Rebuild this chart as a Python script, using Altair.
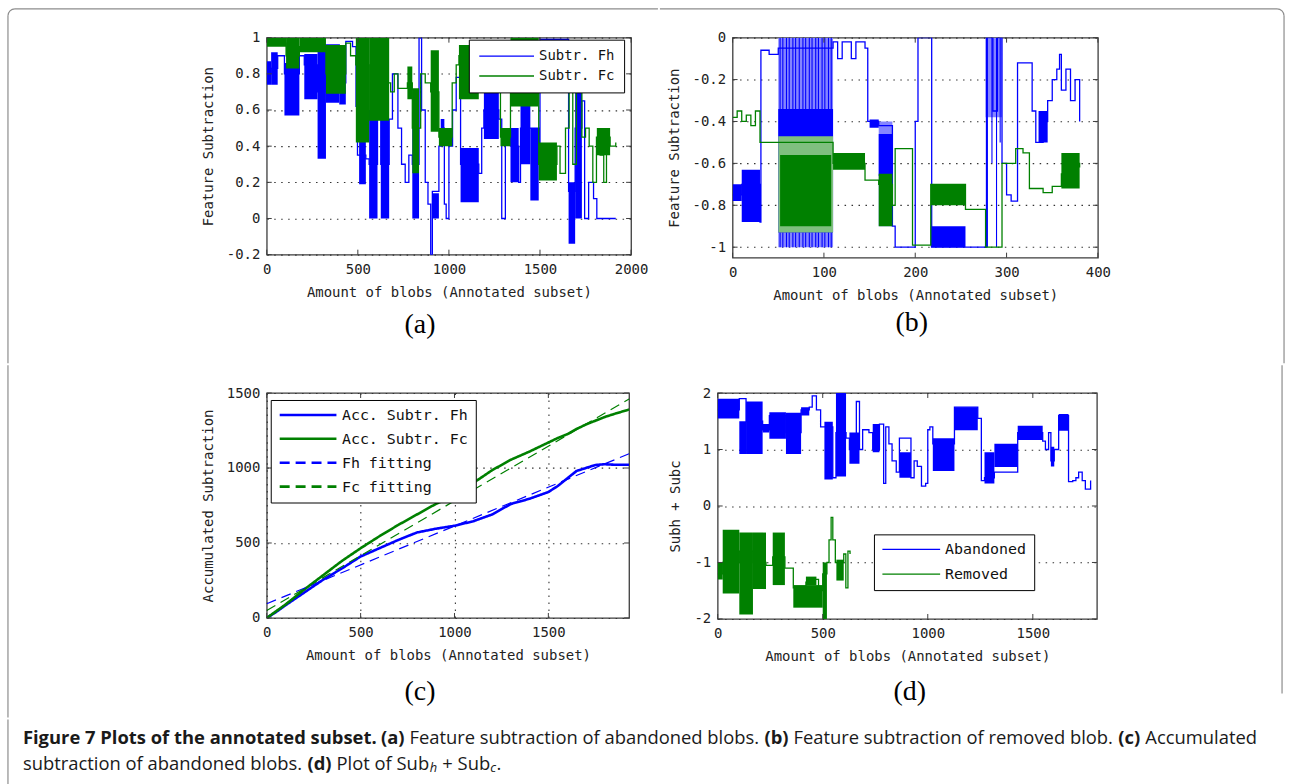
import math
import altair as alt
import pandas as pd

# ---------------- colours / fonts ----------------
BLUE, GREEN = "#0000ff", "#008000"
LBLUE, LGREEN = "#8585ff", "#7fbf7f"
BOX = "#3c3c3c"
FRAME = "#8c8c8c"
MONO = "DejaVu Sans Mono"
SERIF = "Liberation Serif"
SANS = "Open Sans"
XTITLE = "Amount of blobs (Annotated subset)"

# ---------------- panel (a): feature subtraction of abandoned blobs ----------------
A_NAMES = ["Subtr. Fh", "Subtr. Fc"]
A_XTICKS = [0, 500, 1000, 1500, 2000]
A_YTICKS = [-0.2, 0, 0.2, 0.4, 0.6, 0.8, 1]
A_FH_X = [0, 24, 60, 97, 179, 206, 279, 325, 398, 434, 471, 490, 498, 544, 562, 608, 626, 672, 690, 720,
          740, 760, 780, 799, 836, 850, 870, 885, 900, 909, 945, 960, 975, 985, 1000, 1020, 1040, 1064, 1164, 1180,
          1192, 1274, 1290, 1310, 1338, 1383, 1393, 1493, 1500, 1640, 1657, 1693, 1730, 1745, 1767, 1794, 1812, 1916]
A_FH_Y = [0.8, 0.83, 0.9, 0.8, 0.9, 0.85, 0.7, 0.96, 0.75, 0.98, 0.95, 0.62, 0.35, 0.33, 0.3, 0.55, 0.3, 0.55, 0.8, 0.5,
          0.3, 0.2, 0.35, 0.3, 1.0, 0.6, 0.2, 0.08, -0.2, 0.15, 0.4, 0.5, 0.08, 0.0, 0.4, 0.6, 0.78, 0.3, 0.25, 0.5,
          0.6, 0.55, 0.0, 0.45, 0.4, 0.2, 0.5, 0.3, 0.99, 0.99, 0.15, 0.5, 0.65, 0.0, 0.2, 0.11, 0.0, 0.0]
A_FH_BLOCKS = [(0, 24, 0.74, 0.87), (24, 60, 0.74, 0.92), (97, 179, 0.57, 0.86), (206, 279, 0.66, 0.91),
               (279, 325, 0.33, 0.96), (325, 398, 0.64, 0.96), (398, 434, 0.63, 0.84), (507, 544, 0.19, 0.5),
               (562, 608, 0.0, 0.6), (626, 672, 0.0, 0.55), (799, 836, 0.0, 0.59), (909, 945, 0.0, 0.14),
               (955, 975, 0.45, 0.55), (1064, 1164, 0.09, 0.39), (1192, 1274, 0.44, 0.72), (1338, 1383, 0.2, 0.5),
               (1393, 1447, 0.3, 0.63), (1447, 1493, 0.1, 0.5), (1657, 1693, -0.14, 0.2), (1693, 1730, 0.0, 0.72)]
A_FC_X = [0, 106, 179, 325, 434, 460, 489, 562, 600, 640, 680, 700, 720, 772, 799, 845, 870, 900, 945, 1018,
          1040, 1055, 1164, 1180, 1200, 1230, 1283, 1338, 1493, 1593, 1610, 1640, 1660, 1680, 1700, 1730, 1750, 1770,
          1790, 1810, 1830, 1850, 1865, 1885, 1916]
A_FC_Y = [0.97, 0.9, 0.95, 0.8, 0.97, 0.9, 0.85, 0.55, 0.8, 0.75, 0.7, 0.8, 0.72, 0.75, 0.5, 0.8, 0.75, 0.7, 0.45, 0.75,
          0.85, 0.9, 0.8, 0.7, 0.95, 0.7, 0.45, 0.8, 0.3, 0.4, 0.25, 0.5, 0.7, 0.3, 0.7, 0.45, 0.5, 0.4,
          0.2, 0.45, 0.35, 0.2, 0.45, 0.4, 0.42]
A_FC_BLOCKS = [(0, 106, 0.95, 1.0), (106, 179, 0.83, 1.0), (179, 325, 0.92, 1.0), (325, 434, 0.69, 0.96),
               (489, 562, 0.42, 1.0), (562, 672, 0.54, 1.0), (772, 799, 0.66, 0.84), (799, 836, 0.25, 0.72),
               (900, 945, 0.48, 0.93), (945, 1018, 0.4, 0.5), (1055, 1164, 0.66, 0.96), (1283, 1338, 0.4, 0.5),
               (1338, 1493, 0.62, 1.0), (1493, 1593, 0.21, 0.42), (1812, 1885, 0.35, 0.5)]

# ---------------- panel (b): feature subtraction of removed blobs ----------------
B_XTICKS = [0, 100, 200, 300, 400]
B_YTICKS = [-1, -0.8, -0.6, -0.4, -0.2, 0]
B_FH_X = [0, 10, 30, 31, 40, 50, 110, 115, 120, 130, 135, 145, 148, 160, 175, 178, 197, 200, 203, 217,
          218, 277, 278, 285, 290, 295, 300, 305, 312, 325, 328, 332, 340, 345, 350, 355, 358, 360, 365, 370, 375, 380]
B_FH_Y = [-0.75, -0.7, -0.88, -0.06, -0.08, -0.05, -0.02, -0.1, -0.02, -0.1, -0.02, -0.05, -0.4, -0.42, -0.9, -1.0,
          -1.0, -0.4, 0.0, 0.0, -1.0, -1.0, 0.0, -0.35, 0.0, -0.6, -0.75, -0.78, -0.12, -0.12, -0.35, -0.5, -0.4,
          -0.3, -0.2, -0.15, -0.08, -0.25, -0.15, -0.3, -0.2, -0.4]
B_FH_LIGHT = [(50, 110, -1.0, 0.0), (160, 175, -0.9, -0.4), (277, 295, -0.38, 0.0)]
B_FH_BLOCKS = [(0, 10, -0.78, -0.7), (10, 30, -0.88, -0.63), (50, 110, -0.93, -0.34), (150, 160, -0.43, -0.39),
               (160, 175, -0.66, -0.46), (217, 255, -1.0, -0.9), (335, 345, -0.5, -0.35)]
# dense single-sample spikes of Fh that show as vertical stripes
B_FH_SPIKE_X = [52, 55, 59, 62, 66, 69, 73, 77, 80, 84, 87, 91, 94, 98, 101, 105, 108, 279, 284, 289, 293]
B_FH_SPIKE_Y0 = [-1.0] * 17 + [-1.0, -0.6, -1.0, -0.5]
B_FH_SPIKE_Y1 = [0.0] * 17 + [0.0, 0.0, 0.0, 0.0]
B_FC_X = [0, 5, 10, 15, 20, 25, 30, 50, 110, 145, 160, 175, 178, 197, 217, 255, 277, 295, 310, 318,
          325, 340, 350, 360, 370, 380]
B_FC_Y = [-0.38, -0.35, -0.4, -0.37, -0.42, -0.35, -0.5, -0.5, -0.6, -0.68, -0.7, -0.8, -0.53, -0.99, -0.7, -0.82,
          -1.0, -0.6, -0.53, -0.55, -0.72, -0.74, -0.71, -0.65, -0.6, -0.62]
B_FC_LIGHT = [(50, 110, -0.93, -0.47)]
B_FC_BLOCKS = [(52, 108, -0.9, -0.56), (110, 145, -0.63, -0.55), (160, 175, -0.9, -0.65), (217, 255, -0.8, -0.7),
               (360, 380, -0.72, -0.55)]

# ---------------- panel (c): accumulated subtraction ----------------
C_NAMES = ["Acc. Subtr. Fh", "Acc. Subtr. Fc", "Fh fitting", "Fc fitting"]
C_XTICKS = [0, 500, 1000, 1500]
C_YTICKS = [0, 500, 1000, 1500]
C_X = [0, 50, 100, 200, 300, 400, 500, 600, 700, 800, 900, 1000, 1100, 1200, 1300, 1400, 1500, 1550, 1600, 1650,
       1700, 1750, 1800, 1850, 1930]
C_FH = [0, 40, 85, 170, 255, 330, 410, 465, 520, 570, 595, 615, 645, 690, 760, 795, 840, 880, 930, 980,
        1000, 1020, 1025, 1022, 1022]
C_FC = [0, 45, 90, 190, 285, 380, 465, 545, 620, 690, 760, 815, 900, 985, 1055, 1110, 1170, 1200, 1225, 1260,
        1290, 1315, 1340, 1360, 1390]
C_FIT_X = [0, 1930]
C_FH_FIT = [95, 1095]
C_FC_FIT = [50, 1460]

# ---------------- panel (d): Sub_h + Sub_c ----------------
D_NAMES = ["Abandoned", "Removed"]
D_XTICKS = [0, 500, 1000, 1500]
D_YTICKS = [-2, -1, 0, 1, 2]
D_FH_X = [0, 103, 135, 214, 246, 325, 397, 436, 450, 470, 490, 508, 548, 563, 611, 627, 660, 675, 690, 720,
          738, 770, 790, 800, 815, 830, 850, 865, 920, 935, 950, 970, 990, 1000, 1010, 1024, 1127, 1238, 1255, 1270,
          1317, 1428, 1547, 1560, 1575, 1586, 1602, 1623, 1670, 1690, 1705, 1718, 1735, 1750, 1775]
D_FH_Y = [1.7, 1.9, 1.5, 1.35, 1.6, 1.3, 1.7, 1.75, 1.95, 1.7, 1.4, 1.4, 0.5, 1.3, 1.2, 1.0, 1.85, 1.0, 1.35, 1.3,
          1.0, 1.45, 0.4, 1.4, 1.1, 0.8, 0.6, 1.2, 0.5, 0.8, 0.7, 0.35, 0.4, 1.35, 1.4, 1.1, 1.75, 1.55, 0.45, 0.5,
          0.6, 1.3, 1.15, 1.0, 1.3, 0.8, 1.0, 1.6, 0.43, 0.45, 0.5, 0.6, 0.45, 0.3, 0.45]
D_FH_BLOCKS = [(0, 103, 1.55, 1.9), (103, 135, 0.92, 1.5), (135, 214, 0.92, 1.85), (214, 246, 1.3, 1.45),
               (246, 325, 1.19, 1.66), (325, 397, 0.92, 1.65), (397, 436, 1.6, 1.75), (508, 548, 0.47, 1.49),
               (563, 611, 0.52, 2.0), (627, 675, 0.75, 1.3), (738, 770, 0.95, 1.45), (865, 920, 0.5, 0.95),
               (1024, 1127, 0.62, 1.2), (1127, 1238, 1.34, 1.75), (1270, 1317, 0.4, 0.95), (1317, 1428, 0.69, 1.1),
               (1428, 1547, 1.17, 1.42), (1586, 1602, 0.7, 1.05), (1623, 1670, 1.33, 1.63)]
D_FC_X = [0, 24, 103, 168, 230, 262, 320, 360, 420, 450, 480, 500, 520, 530, 540, 548, 560, 575, 590, 600,
          610, 620, 630]
D_FC_Y = [-1.2, -1.0, -0.8, -1.0, -1.05, -0.9, -1.1, -1.45, -1.35, -1.3, -1.5, -1.2, -1.0, -0.6, -0.2, -0.6, -1.0,
          -1.1, -1.0, -0.85, -1.45, -0.8, -0.85]
D_FC_BLOCKS = [(0, 24, -1.3, -1.0), (24, 103, -1.55, -0.42), (103, 168, -1.92, -0.47), (168, 230, -1.47, -0.47),
               (262, 320, -1.4, -0.47), (360, 500, -1.8, -1.4), (420, 470, -1.4, -1.25), (500, 520, -2.0, -1.0),
               (565, 600, -1.32, -0.95)]

# ---------------- captions ----------------
PANEL_LABELS = ["(a)", "(b)", "(c)", "(d)"]
CAP_LINE1 = [("Figure 7 Plots of the annotated subset.", "b"), (" ", "r"), ("(a)", "b"),
             (" Feature subtraction of abandoned blobs. ", "r"), ("(b)", "b"),
             (" Feature subtraction of removed blob. ", "r"), ("(c)", "b"), (" Accumulated", "r")]
CAP_LINE2 = [("subtraction of abandoned blobs. ", "r"), ("(d)", "b"), (" Plot of Sub", "r"), ("h", "s"),
             (" + Sub", "r"), ("c", "s"), (".", "r")]

# ---------------- page layout (absolute pixels) ----------------
# every sub-chart owns one invisible cell of the page; the cells tile the page exactly
COL_SPLIT, ROW1_END, ROW2_END, PAGE_W, PAGE_H = 658, 360, 712, 1292, 785
VIEW = {"a": (267, 35), "b": (731, 35), "c": (267, 388), "d": (718, 388), "cap": (267, 712)}
CELL = {"a": (0, 0, COL_SPLIT, ROW1_END), "b": (COL_SPLIT, 0, PAGE_W, ROW1_END),
        "c": (0, ROW1_END, COL_SPLIT, ROW2_END), "d": (COL_SPLIT, ROW1_END, PAGE_W, ROW2_END),
        "cap": (0, ROW2_END, PAGE_W, PAGE_H)}
LABEL_POS = {"a": (421, 324), "b": (911, 322), "c": (421, 688), "d": (911, 688)}
FL, FT, FR, FB, FRAD, FW = 7, 6, 1285, 784, 7, 1.2  # page frame (left, top, right, bottom, radius, width)
FRAME_RIGHT_END = 690
SEAM = 2  # frame pieces that end at a cell edge run on slightly to close the seam

one = pd.DataFrame({"k": [0]})


def cell_layers(key):
    vx, vy = VIEW[key]
    x0, y0, x1, y1 = CELL[key]
    return [alt.Chart(one).mark_rect(opacity=0).encode(
        x=alt.value(x0 - vx), x2=alt.value(x1 - vx), y=alt.value(y0 - vy), y2=alt.value(y1 - vy))]


def frame_layers(key):
    vx, vy = VIEW[key]
    x0, y0, x1, y1 = CELL[key]
    out = []
    h = FW / 2.0

    def bar(xa, xb, ya, yb):
        out.append(alt.Chart(one).mark_rect(color=FRAME).encode(
            x=alt.value(xa - vx), x2=alt.value(xb - vx), y=alt.value(ya - vy), y2=alt.value(yb - vy)))

    def corner(cx, cy, t0, t1):
        out.append(alt.Chart(one).mark_arc(radius=FRAD + h, radius2=FRAD - h, theta=t0, theta2=t1,
                                           color=FRAME).encode(x=alt.value(cx - vx), y=alt.value(cy - vy)))

    if key == "a":
        bar(FL + FRAD, x1 + SEAM, FT - h, FT + h)
        bar(FL - h, FL + h, FT + FRAD, y1 + SEAM)
        corner(FL + FRAD, FT + FRAD, 1.5 * math.pi, 2 * math.pi)
    if key == "b":
        bar(x0, FR - FRAD, FT - h, FT + h)
        bar(FR - h, FR + h, FT + FRAD, y1 + SEAM)
        corner(FR - FRAD, FT + FRAD, 0, 0.5 * math.pi)
    if key == "c":
        bar(FL - h, FL + h, y0, y1 + SEAM)
    if key == "d":
        bar(FR - h, FR + h, y0, FRAME_RIGHT_END)
    if key == "cap":
        bar(FL - h, FL + h, y0, FB - FRAD)
        corner(FL + FRAD, FB - FRAD, math.pi, 1.5 * math.pi)
    return out


def blocks_df(blocks):
    return pd.DataFrame(blocks, columns=["x0", "x1", "y0", "y1"])


def line_df(xs, ys, name):
    return pd.DataFrame({"x": xs, "y": ys, "s": [name] * len(xs)})


def make_legend(key, box_x, box_y, pad, rowpad, fs, symlen, with_width=True):
    vx, vy = VIEW[key]
    kw = dict(title=None, orient="none", legendX=box_x - vx, legendY=box_y - vy, symbolType="stroke",
              symbolSize=symlen * symlen, strokeColor="#000000", fillColor="#ffffff", padding=pad,
              rowPadding=rowpad, labelFont=MONO, labelFontSize=fs, labelColor="#111111", labelOffset=4,
              symbolOffset=0, cornerRadius=0, labelLimit=400, clipHeight=fs)
    if with_width:
        kw["symbolStrokeWidth"] = 1.3
    return alt.Legend(**kw)


def build_panel(key, W, H, xdom, ydom, xticks, yticks, xgrid, ygrid, ytitle, parts, label, interp="step-after"):
    vx, vy = VIEW[key]
    xs = alt.Scale(domain=xdom, nice=False, zero=False)
    ys = alt.Scale(domain=ydom, nice=False, zero=False)
    xax = alt.Axis(values=xticks, grid=xgrid, title=XTITLE, labelExpr="'' + datum.value")
    yax = alt.Axis(values=yticks, grid=ygrid, title=ytitle, labelExpr="'' + datum.value")

    def X(f):
        return alt.X(f, type="quantitative", scale=xs, axis=xax)

    def Y(f):
        return alt.Y(f, type="quantitative", scale=ys, axis=yax)

    layers = cell_layers(key) + frame_layers(key)
    for kind, payload in parts:
        if kind == "rect":
            df, color = payload
            layers.append(alt.Chart(df).mark_rect(color=color, clip=True).encode(
                x=X("x0"), x2="x1", y=Y("y0"), y2="y1"))
        elif kind == "spike":
            df, color = payload
            layers.append(alt.Chart(df).mark_rule(color=color, strokeWidth=1.1, clip=True).encode(
                x=X("x"), y=Y("y0"), y2="y1"))
        else:
            df, enc, width = payload
            layers.append(alt.Chart(df).mark_line(interpolate=interp, strokeWidth=width, clip=True).encode(
                x=X("x"), y=Y("y"), **enc))
    tx = pd.DataFrame({"t": xticks})
    ty = pd.DataFrame({"t": yticks})
    tl = 5
    layers.append(alt.Chart(tx).mark_rule(color=BOX, strokeWidth=1).encode(
        x=X("t"), y=alt.value(H), y2=alt.value(H - tl)))
    layers.append(alt.Chart(tx).mark_rule(color=BOX, strokeWidth=1).encode(
        x=X("t"), y=alt.value(0), y2=alt.value(tl)))
    layers.append(alt.Chart(ty).mark_rule(color=BOX, strokeWidth=1).encode(
        y=Y("t"), x=alt.value(0), x2=alt.value(tl)))
    layers.append(alt.Chart(ty).mark_rule(color=BOX, strokeWidth=1).encode(
        y=Y("t"), x=alt.value(W), x2=alt.value(W - tl)))
    lx, ly = LABEL_POS[key]
    layers.append(alt.Chart(pd.DataFrame({"t": [label]})).mark_text(
        font=SERIF, fontSize=28, color="#000000", align="center", baseline="middle").encode(
        text="t:N", x=alt.value(lx - vx), y=alt.value(ly - vy)))
    return alt.layer(*layers).properties(width=W, height=H)


# ---- panel (a) ----
a_cs = alt.Scale(domain=A_NAMES, range=[BLUE, GREEN])
a_leg = make_legend("a", 470, 37, 9.5, 6, 14, 55)
panel_a = build_panel(
    "a", 366, 218, [0, 2000], [-0.2, 1], A_XTICKS, A_YTICKS, False, True, "Feature Subtraction",
    [("rect", (blocks_df(A_FH_BLOCKS), BLUE)),
     ("line", (line_df(A_FH_X, A_FH_Y, A_NAMES[0]), {"color": alt.Color("s:N", scale=a_cs, legend=a_leg)}, 1.3)),
     ("rect", (blocks_df(A_FC_BLOCKS), GREEN)),
     ("line", (line_df(A_FC_X, A_FC_Y, A_NAMES[1]), {"color": alt.Color("s:N", scale=a_cs, legend=a_leg)}, 1.3))],
    PANEL_LABELS[0])

# ---- panel (b) ----
b_spikes = pd.DataFrame({"x": B_FH_SPIKE_X, "y0": B_FH_SPIKE_Y0, "y1": B_FH_SPIKE_Y1})
panel_b = build_panel(
    "b", 367, 221, [0, 400], [-1.05, 0], B_XTICKS, B_YTICKS, False, True, "Feature Subtraction",
    [("rect", (blocks_df(B_FH_LIGHT), LBLUE)),
     ("spike", (b_spikes, BLUE)),
     ("rect", (blocks_df(B_FH_BLOCKS), BLUE)),
     ("line", (line_df(B_FH_X, B_FH_Y, "Fh"), {"color": alt.value(BLUE)}, 1.3)),
     ("rect", (blocks_df(B_FC_LIGHT), LGREEN)),
     ("rect", (blocks_df(B_FC_BLOCKS), GREEN)),
     ("line", (line_df(B_FC_X, B_FC_Y, "Fc"), {"color": alt.value(GREEN)}, 1.3))],
    PANEL_LABELS[1])

# ---- panel (c) ----
c_leg = make_legend("c", 271, 395, 7.5, 8, 15, 57, with_width=False)
c_enc = {
    "color": alt.Color("s:N", scale=alt.Scale(domain=C_NAMES, range=[BLUE, GREEN, BLUE, GREEN]), legend=c_leg),
    "strokeDash": alt.StrokeDash("s:N", scale=alt.Scale(domain=C_NAMES, range=[[1, 0], [1, 0], [10, 6], [10, 6]]),
                                 legend=c_leg),
    "strokeWidth": alt.StrokeWidth("s:N", scale=alt.Scale(domain=C_NAMES, range=[2.6, 2.6, 1.2, 1.2]),
                                   legend=c_leg),
}
c_solid = pd.concat([line_df(C_X, C_FH, C_NAMES[0]), line_df(C_X, C_FC, C_NAMES[1])])
c_fit = pd.concat([line_df(C_FIT_X, C_FH_FIT, C_NAMES[2]), line_df(C_FIT_X, C_FC_FIT, C_NAMES[3])])
panel_c = build_panel(
    "c", 364, 226, [0, 1930], [0, 1500], C_XTICKS, C_YTICKS, True, True, "Accumulated Subtraction",
    [("line", (c_solid, c_enc, 2.6)), ("line", (c_fit, c_enc, 1.2))],
    PANEL_LABELS[2], interp="linear")

# ---- panel (d) ----
d_cs = alt.Scale(domain=D_NAMES, range=[BLUE, GREEN])
d_leg = make_legend("d", 875, 530, 7.5, 9, 15, 58)
panel_d = build_panel(
    "d", 381, 227, [0, 1805], [-2, 2], D_XTICKS, D_YTICKS, False, True, "Subh + Subc",
    [("rect", (blocks_df(D_FH_BLOCKS), BLUE)),
     ("line", (line_df(D_FH_X, D_FH_Y, D_NAMES[0]), {"color": alt.Color("s:N", scale=d_cs, legend=d_leg)}, 1.3)),
     ("rect", (blocks_df(D_FC_BLOCKS), GREEN)),
     ("line", (line_df(D_FC_X, D_FC_Y, D_NAMES[1]), {"color": alt.Color("s:N", scale=d_cs, legend=d_leg)}, 1.3))],
    PANEL_LABELS[3])

# ---- figure caption ----
REG_W = {' ': 532, '.': 545, '(': 604, ')': 604, '+': 1171, '7': 1171, 'A': 1296, 'F': 1057, 'P': 1264, 'S': 1124,
         'a': 1139, 'b': 1255, 'c': 975, 'd': 1255, 'e': 1149, 'f': 694, 'g': 1122, 'h': 1257, 'i': 518, 'k': 1075,
         'l': 518, 'm': 1905, 'n': 1257, 'o': 1237, 'p': 1255, 'r': 836, 's': 977, 't': 723, 'u': 1257, 'v': 1026,
         'w': 1593, 'x': 1073, 'y': 1028}
BOLD_W = {' ': 532, '.': 586, '(': 694, ')': 694, '7': 1171, 'F': 1118, 'P': 1278, 'a': 1208, 'b': 1276, 'c': 1069,
          'd': 1276, 'e': 1200, 'f': 791, 'g': 1141, 'h': 1329, 'i': 621, 'l': 621, 'n': 1329, 'o': 1245, 'r': 918,
          's': 1038, 't': 836, 'u': 1329}
BOLD_SCALE = 1.012


def em_width(text, style):
    if style == "b":
        units = BOLD_SCALE * sum(BOLD_W.get(ch, 1180) for ch in text)
    else:
        units = sum(REG_W.get(ch, 1150) for ch in text)
    k = 0.7 if style == "s" else 1.0
    return k * units / 2048.0


CAP_X0, CAP_X1 = 22, 1262
CAP_YS = [731, 757]
cap_fs = (CAP_X1 - CAP_X0) / sum(em_width(t, s) for t, s in CAP_LINE1)
cvx, cvy = VIEW["cap"]
cap_layers = cell_layers("cap") + frame_layers("cap")
for li, segs in enumerate([CAP_LINE1, CAP_LINE2]):
    cx = CAP_X0
    for text, style in segs:
        lead = len(text) - len(text.lstrip(" "))
        lead_w = em_width(" " * lead, style) * cap_fs
        shown = text.strip(" ")
        if shown:
            size = cap_fs * (0.7 if style == "s" else 1.0)
            cap_layers.append(
                alt.Chart(pd.DataFrame({"t": [shown]})).mark_text(
                    align="left", baseline="middle", font=SANS, fontSize=size,
                    fontWeight="bold" if style == "b" else "normal",
                    fontStyle="italic" if style == "s" else "normal", color="#1a1a1a").encode(
                    text="t:N", x=alt.value(cx + lead_w - cvx),
                    y=alt.value(CAP_YS[li] + (4 if style == "s" else 0) - cvy)))
        cx += em_width(text, style) * cap_fs
caption = alt.layer(*cap_layers).properties(width=300, height=20,
                                             view=alt.ViewBackground(stroke="transparent"))

RES = dict(color="independent", strokeDash="independent", strokeWidth="independent")

row1 = alt.hconcat(panel_a, panel_b, spacing=0).resolve_scale(**RES).resolve_legend(**RES)
row2 = alt.hconcat(panel_c, panel_d, spacing=0).resolve_scale(**RES).resolve_legend(**RES)
chart = alt.vconcat(row1, row2, caption, spacing=0).resolve_scale(**RES).resolve_legend(
    **RES).properties(padding=0, background="white").configure_view(
    stroke=BOX, strokeWidth=1.3).configure_axis(
    labelFont=MONO, labelFontSize=14, labelColor="#222222", titleFont=MONO, titleFontSize=14,
    titleFontWeight="normal", titleColor="#222222", ticks=False, domain=False, gridColor="#333333",
    gridDash=[1.5, 5.5], gridWidth=1.1, labelFlush=False, gridOpacity=1).configure_axisX(
    labelPadding=8, titlePadding=9).configure_axisY(labelPadding=7, titlePadding=11)

chart.save("out.html", embed_options={"renderer": "svg", "actions": False})
